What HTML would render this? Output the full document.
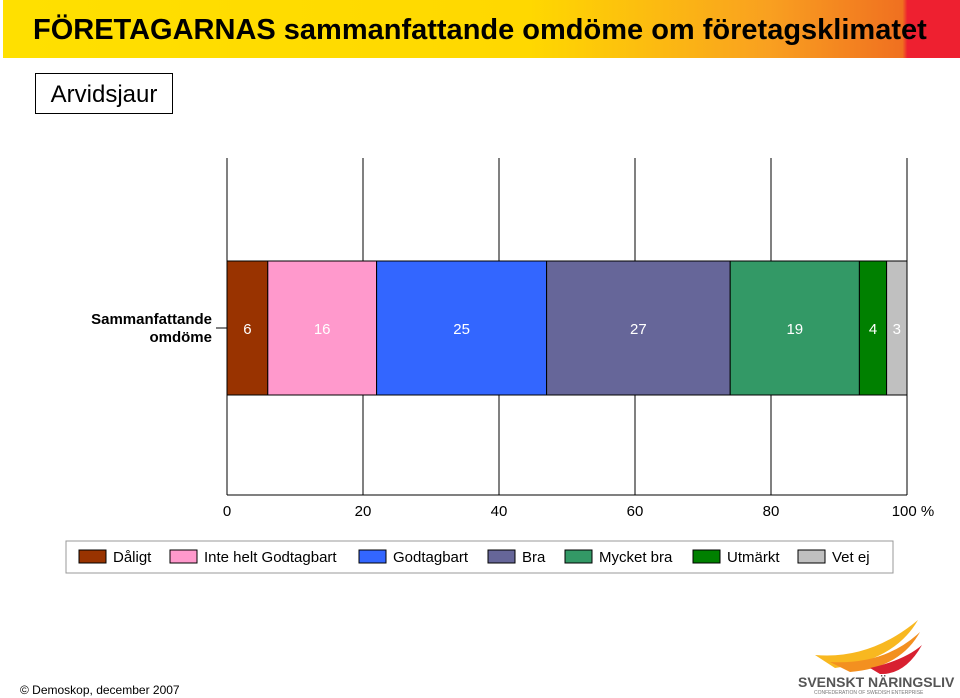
<!DOCTYPE html>
<html><head><meta charset="utf-8"><style>
body{margin:0;width:960px;height:698px;background:#fff;position:relative;overflow:hidden;font-family:"Liberation Sans",sans-serif}
.t{position:absolute}
</style></head><body>
<div class="t" style="left:3px;top:0;width:957px;height:58px;background:linear-gradient(90deg,#ffe000 0%,#ffd800 55%,#f9a020 80%,#f07020 94%,#ee2030 94.5%,#ee2030 100%)"></div>
<div class="t" style="left:33px;top:14px;font-size:29px;font-weight:bold;color:#000;white-space:nowrap">FÖRETAGARNAS sammanfattande omdöme om företagsklimatet</div>
<div class="t" style="left:35px;top:73px;height:41px;border:1.5px solid #000;font-size:24px;line-height:41px;text-align:center;box-sizing:border-box;width:138px">Arvidsjaur</div>
<svg class="t" style="left:0;top:0" width="960" height="698">
<g id="grid"></g><g id="bars"></g><g id="labels"></g>
<text x="212" y="324" text-anchor="end" font-size="15" font-weight="bold" font-family="Liberation Sans">Sammanfattande</text>
<text x="212" y="342" text-anchor="end" font-size="15" font-weight="bold" font-family="Liberation Sans">omdöme</text>
<line x1="216" y1="328" x2="227" y2="328" stroke="#000"/>
<rect x="66" y="541" width="827" height="32" fill="#fff" stroke="#999"/>
<g id="legend"></g>
<text x="20" y="694" font-size="12" font-family="Liberation Sans">© Demoskop, december 2007</text>
<g>
<path d="M815 655 Q870 660 918 620 Q895 660 835 668 Z" fill="#f8b820"/>
<path d="M830 662 Q885 665 920 632 Q900 668 850 672 Z" fill="#f39020"/>
<path d="M870 668 Q905 660 922 645 Q905 675 880 674 Z" fill="#d82030"/>
<text x="798" y="687" font-size="14" font-weight="bold" fill="#555" font-family="Liberation Sans">SVENSKT NÄRINGSLIV</text>
<text x="814" y="694" font-size="5" fill="#777" font-family="Liberation Sans">CONFEDERATION OF SWEDISH ENTERPRISE</text>
</g>
</svg>
<script>
const categories=["Dåligt","Inte helt Godtagbart","Godtagbart","Bra","Mycket bra","Utmärkt","Vet ej"];
const values=[6,16,25,27,19,4,3];
const ticks=[0,20,40,60,80,100];
const colors=["#993300","#ff99cc","#3366ff","#666699","#339966","#008000","#c0c0c0"];
const NS="http://www.w3.org/2000/svg";
const x0=227,x1=907,yTop=158,yBot=495,barY=261,barH=134;
const xs=v=>x0+(x1-x0)*v/100;
function mk(t,a,p){const e=document.createElementNS(NS,t);for(const k in a)e.setAttribute(k,a[k]);document.getElementById(p).appendChild(e);return e;}
ticks.forEach((t,i)=>{
 const l=mk('line',{x1:xs(t),x2:xs(t),y1:yTop,y2:yBot,stroke:'#000','stroke-width':1},'grid');
 
 
 const tx=mk('text',{x:xs(t),y:516,'text-anchor':'middle','font-size':15,'font-family':'Liberation Sans'},'labels');
 tx.textContent=t+(t===100?' %':'');
 if(t===100)tx.setAttribute('x',xs(t)+6);
 
 
});
mk('line',{x1:x0,x2:x1,y1:yBot,y2:yBot,stroke:'#000'},'grid');
let cum=0;
values.forEach((v,i)=>{
 const r=mk('rect',{x:xs(cum),y:barY,width:xs(cum+v)-xs(cum),height:barH,fill:colors[i],stroke:'#000','stroke-width':1},'bars');
 
 
 const tx=mk('text',{x:(xs(cum)+xs(cum+v))/2,y:334,'text-anchor':'middle','font-size':15,'font-family':'Liberation Sans',fill:'#fff'},'labels');
 tx.textContent=v;
 
 
 cum+=v;
});
const legX=[79,170,359,488,565,693,798];
categories.forEach((c,i)=>{
 const r=mk('rect',{x:legX[i],y:550,width:27,height:13,fill:colors[i],stroke:'#000'},'legend');
 
 
 const tx=mk('text',{x:legX[i]+34,y:562,'font-size':15,'font-family':'Liberation Sans'},'legend');
 tx.textContent=c;
 
 
});
</script>
</body></html>
